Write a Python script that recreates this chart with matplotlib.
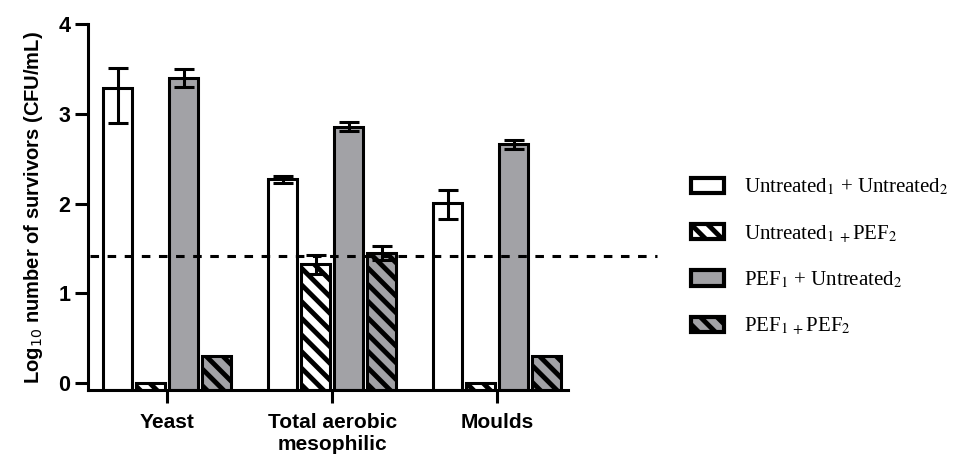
import numpy as np
import matplotlib.pyplot as plt
from matplotlib.font_manager import FontProperties

# data
groups = ['Yeast', 'Total aerobic\nmesophilic', 'Moulds']
series = [r'Untreated$_1$ + Untreated$_2$',
          r'Untreated$_1$$_{\,+}$PEF$_2$',
          r'PEF$_1$ + Untreated$_2$',
          r'PEF$_1$$_{\,+}$PEF$_2$']
means = [
    [3.29, 2.27, 2.01],   # untreated + untreated
    [0.00, 1.33, 0.00],   # untreated + PEF
    [3.40, 2.86, 2.66],   # PEF + untreated
    [0.30, 1.45, 0.30],   # PEF + PEF
]
err_lo = [
    [0.39, 0.04, 0.18],
    [0.00, 0.12, 0.00],
    [0.10, 0.05, 0.05],
    [0.00, 0.08, 0.00],
]
err_hi = [
    [0.22, 0.04, 0.14],
    [0.00, 0.10, 0.00],
    [0.10, 0.05, 0.05],
    [0.00, 0.08, 0.00],
]
limit = 1.42  # detection limit (dashed line)

gray = '#a2a2a6'
faces = ['white', 'white', gray, gray]
hatches = [None, '\\\\', None, '\\\\']

plt.rcParams['font.family'] = ['Liberation Sans', 'DejaVu Sans']
plt.rcParams['hatch.linewidth'] = 3.5

fig = plt.figure(figsize=(9.54, 4.59), dpi=100)
ax = fig.add_axes([0.0922, 0.1503, 0.5032, 0.7967])

ymin = -0.08
x = np.arange(len(groups))
width = 0.18
offsets = [-0.3, -0.1, 0.1, 0.3]
handles = []
for i in range(4):
    vals = np.array(means[i])
    b = ax.bar(x + offsets[i], vals - ymin, width, bottom=ymin,
               color=faces[i], edgecolor='black', linewidth=2.2,
               hatch=hatches[i], label=series[i], zorder=2)
    handles.append(b)
    lo = np.array(err_lo[i])
    hi = np.array(err_hi[i])
    show = (lo + hi) > 0
    ax.errorbar((x + offsets[i])[show], vals[show], yerr=[lo[show], hi[show]],
                fmt='none', ecolor='black', elinewidth=2.2, capsize=7,
                capthick=2.2, zorder=3)

ax.axhline(limit, xmin=0.005, xmax=1.185, color='black', lw=2.2,
           ls=(0, (2.8, 2.8)), clip_on=False, zorder=4)

ax.set_xlim(-0.48, 2.43)
ax.set_ylim(ymin, 4)
ax.set_yticks([0, 1, 2, 3, 4])
ax.set_xticks(x)
ax.set_xticklabels(groups, fontsize=15, fontweight='bold', linespacing=1.2)
for lab in ax.get_yticklabels():
    lab.set_fontsize(15.5)
    lab.set_fontweight('bold')
ax.tick_params(axis='x', length=9.5, width=2.2, pad=7)
ax.tick_params(axis='y', length=9.5, width=2.2, pad=3)
ax.spines['top'].set_visible(False)
ax.spines['right'].set_visible(False)
ax.spines['left'].set_linewidth(2.2)
ax.spines['bottom'].set_linewidth(2.2)

ax.set_ylabel(r'Log$_{10}$ number of survivors (CFU/mL)', fontsize=14.5,
              fontweight='bold', labelpad=10)

leg_font = FontProperties(family='Liberation Serif', size=15, math_fontfamily='stix')
leg = fig.legend(handles=handles, labels=series, loc='center left',
                 bbox_to_anchor=(0.705, 0.44), frameon=False, prop=leg_font,
                 handlelength=1.55, handleheight=0.75, handletextpad=1.0,
                 labelspacing=1.2)
for p in leg.get_patches():
    p.set_linewidth(3)

fig.savefig('out.png', dpi=100)
